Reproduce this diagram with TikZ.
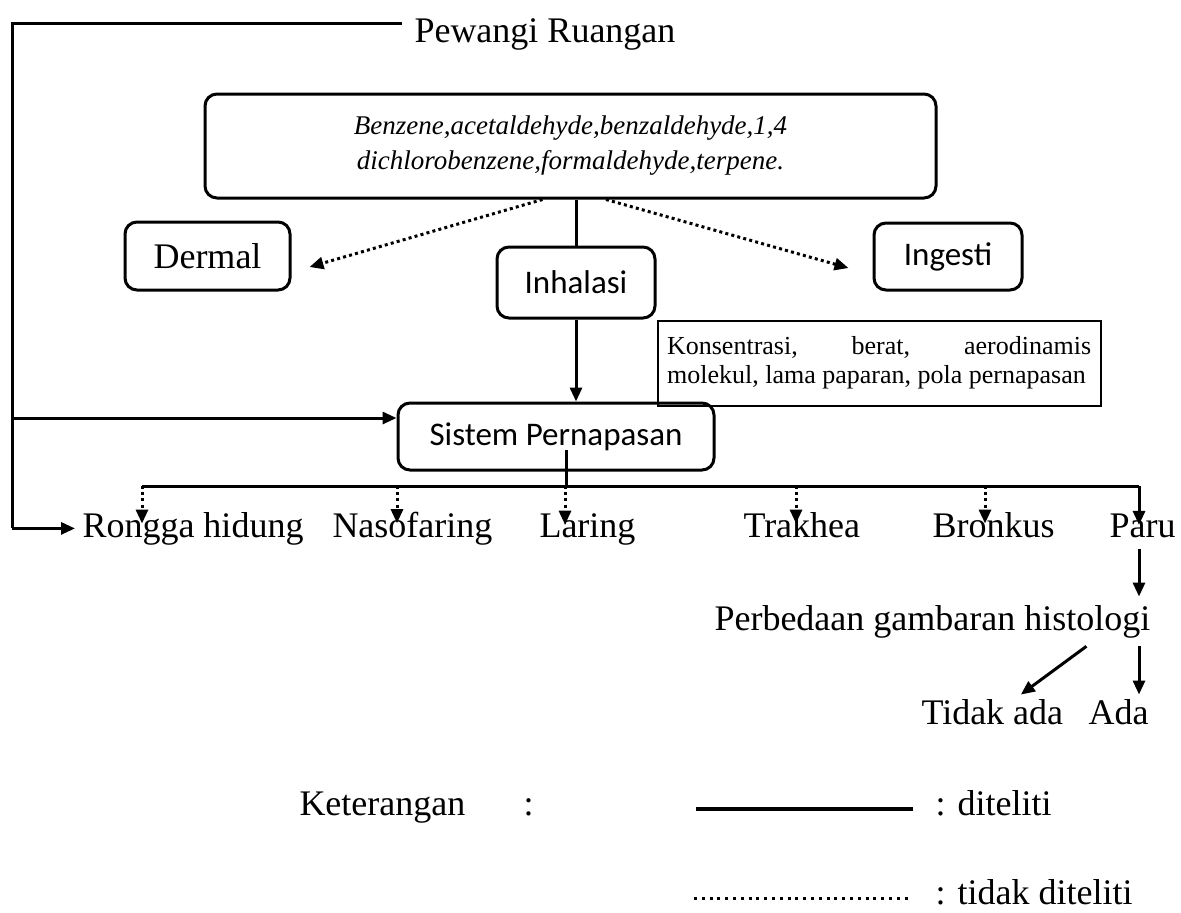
\documentclass[tikz,border=0pt]{standalone}
\usepackage{fontspec}
\setmainfont{Liberation Serif}
\newfontfamily\boxfont{Carlito}
\usetikzlibrary{arrows.meta}
\tikzset{
  rbox/.style={draw, rounded corners=6pt, align=center, inner sep=0pt},
  lbl/.style={inner sep=0pt, anchor=base west, font=\fontsize{18}{21}\selectfont},
  sansbox/.style={rbox, font=\boxfont\fontsize{16.5}{20}\selectfont},
  arr/.style={-{Triangle[length=7pt,width=6pt]}},
  dotarr/.style={dash pattern=on 1.5pt off 1.6pt, -{Triangle[length=7pt,width=6pt]}}
}

\begin{document}
\begin{tikzpicture}[x=0.5pt, y=-0.5pt, line width=1.5pt]
  \useasboundingbox (0,0) rectangle (1181,912);

  % ---------- source and exposure routes ----------
  \node[lbl] (pew) at (413,42) {Pewangi Ruangan};
  \node[rbox, minimum width=365.5pt, minimum height=52pt,
        font=\itshape\fontsize{13.5}{17.5}\selectfont] (zat) at (570.5,146)
    {Benzene,acetaldehyde,benzaldehyde,1,4\\dichlorobenzene,formaldehyde,terpene.};
  \node[rbox, minimum width=82.5pt, minimum height=34pt,
        font=\fontsize{18}{21}\selectfont] (der) at (207.5,256) {Dermal};
  \node[sansbox, minimum width=79pt, minimum height=35.5pt] (inh) at (576,282.5) {Inhalasi};
  \node[sansbox, minimum width=74pt, minimum height=33.5pt] (ing) at (948,256.5) {Ingesti};
  \node[draw, line width=1.1pt, anchor=north west, text width=212pt, align=justify,
        inner xsep=4.75pt, minimum height=42.5pt,
        font=\fontsize{13}{14.5}\selectfont] (kon) at (inh.south east)
    {Konsentrasi, berat, aerodinamis\linebreak molekul, lama paparan, pola pernapasan};
  \node[sansbox, minimum width=158pt, minimum height=33.5pt] (sis) at (556,436.5) {Sistem Pernapasan};

  % ---------- organs ----------
  \node[lbl] (ron) at (81,537)   {Rongga hidung};
  \node[lbl] (nas) at (331,537)  {Nasofaring};
  \node[lbl] (lar) at (538,537)  {Laring};
  \node[lbl] (tra) at (742,537)  {Trakhea};
  \node[lbl] (bro) at (931,537)  {Bronkus};
  \node[lbl, anchor=base east] (par) at (1177,537) {Paru};
  \node[lbl] (beda) at (713,630) {Perbedaan gambaran histologi};
  \node[lbl] (tdk) at (920,724)  {Tidak ada};
  \node[lbl] (ada) at (1087,724) {Ada};

  % ---------- left rail ----------
  \coordinate (rail) at (12,23);
  \coordinate (rs) at (12,418);
  \draw ([xshift=-5.5pt]pew.west |- rail) -- (rail) -- (rail |- ron.west);
  \draw[arr] (rail |- ron.west) -- ([xshift=-3pt]ron.west);
  \draw[arr] (rs) -- (rs -| sis.west);

  % ---------- routes ----------
  \draw (zat.south -| inh.north) -- (inh.north);
  \draw[arr] (inh.south) -- (inh.south |- sis.north);
  \draw[dotarr] ([xshift=-14pt]zat.south) -- ([xshift=9pt,yshift=-5.5pt]der.east);
  \draw[dotarr] ([xshift=17.75pt]zat.south) -- ([xshift=-12pt,yshift=-5.75pt]ing.west);

  % ---------- bus to organs ----------
  \coordinate (busl) at (142,486);
  \coordinate (busr) at (1139,486);
  \draw ([xshift=5pt,yshift=-6.75pt]sis.center) -- ([xshift=5pt]sis.center |- busl);
  \draw (busl) -- (busr);
  \foreach \n/\x in {ron/142, nas/397, lar/565, tra/796, bro/985}{
    \coordinate (t\n) at (\x,486);
    \draw[dotarr] (t\n) -- ([yshift=-6.5pt]t\n |- \n.north);}
  \draw[arr] (busr) -- ([yshift=-6.5pt]busr |- par.north);
  \draw[arr] ([yshift=-5pt]busr |- par.south) -- ([yshift=3.5pt]busr |- beda.north);
  \draw[arr] ([yshift=-3.5pt]busr |- beda.south) -- ([yshift=1.5pt]busr |- ada.north);
  \draw[arr] ([xshift=77pt,yshift=-3.5pt]beda.south) -- ([xshift=14.25pt,yshift=1.5pt]tdk.north);

  % ---------- legend ----------
  \node[lbl] (ket) at (298,815)  {Keterangan};
  \node[lbl] (kol) at (522,815)  {:};
  \node[lbl] (dit) at (934,815)  {: diteliti};
  \node[lbl] (tdit) at (934,904) {: tidak diteliti};
  \draw[line width=2pt] (696,809) -- (913,809);
  \draw[dash pattern=on 1.5pt off 2.4pt] (694,898) -- (909,898);

\end{tikzpicture}
\end{document}
